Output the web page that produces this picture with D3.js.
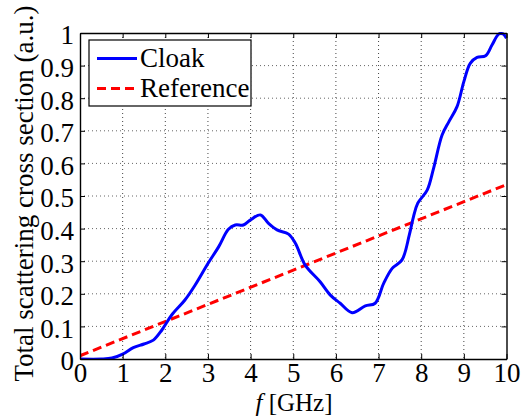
<!DOCTYPE html>
<html><head><meta charset="utf-8">
<script src="https://cdn.jsdelivr.net/npm/d3@7"></script>
<style>
html,body{margin:0;padding:0;background:#fff;}
</style></head>
<body><svg id="c" width="522" height="416"></svg>
<script>
const cloakF = [0, 0.5, 0.75, 1.0, 1.25, 1.5, 1.72, 1.92, 2.15, 2.46, 2.7, 3.0, 3.25, 3.48, 3.64, 3.83, 3.99, 4.23, 4.42, 4.62, 4.89, 5.05, 5.28, 5.63, 5.87, 6.1, 6.38, 6.69, 6.92, 7.12, 7.32, 7.55, 7.72, 7.82, 7.92, 8.14, 8.29, 8.49, 8.65, 8.84, 9.0, 9.15, 9.31, 9.51, 9.66, 9.82, 9.92, 10];
const cloakV = [0, 0, 0.003, 0.015, 0.035, 0.046, 0.058, 0.089, 0.135, 0.181, 0.227, 0.293, 0.344, 0.398, 0.411, 0.411, 0.426, 0.442, 0.416, 0.396, 0.383, 0.355, 0.288, 0.237, 0.196, 0.171, 0.142, 0.163, 0.171, 0.232, 0.278, 0.304, 0.38, 0.437, 0.478, 0.518, 0.585, 0.687, 0.728, 0.774, 0.851, 0.907, 0.925, 0.930, 0.963, 0.997, 0.997, 0.984];
const refF = [0, 10];
const refV = [0.01, 0.535];
const xTicks = [0,1,2,3,4,5,6,7,8,9,10];
const yTicks = [0,0.1,0.2,0.3,0.4,0.5,0.6,0.7,0.8,0.9,1];
const yTickLabels = ["0","0.1","0.2","0.3","0.4","0.5","0.6","0.7","0.8","0.9","1"];
const seriesNames = ["Cloak","Reference"];

const FONT = "Liberation Serif, Times New Roman, serif";
const FS = 27;
const svg = d3.select("#c").attr("font-family",FONT);
const L=80, R=506.5, T=33, B=359;
const x = d3.scaleLinear().domain([0,10]).range([L,R]);
const y = d3.scaleLinear().domain([0,1]).range([B,T]);

// grid
const g = svg.append("g");
g.selectAll("line.vg").data(xTicks.slice(1,-1)).enter().append("line")
 .attr("x1",d=>x(d)).attr("x2",d=>x(d)).attr("y1",T).attr("y2",B)
 .attr("stroke","#444").attr("stroke-width",1).attr("stroke-dasharray","1,3");
g.selectAll("line.hg").data(yTicks.slice(1,-1)).enter().append("line")
 .attr("x1",L).attr("x2",R).attr("y1",d=>y(d)).attr("y2",d=>y(d))
 .attr("stroke","#666").attr("stroke-width",1).attr("stroke-dasharray","1,3");

// clip
svg.append("clipPath").attr("id","clip").append("rect")
 .attr("x",L).attr("y",T-1).attr("width",R-L).attr("height",B-T+1);

const line = d3.line().curve(d3.curveCatmullRom.alpha(0.5)).x(d=>x(d[0])).y(d=>y(d[1]));
const plot = svg.append("g").attr("clip-path","url(#clip)");
plot.append("path").datum(refF.map((f,i)=>[f,refV[i]]))
 .attr("d",d3.line().x(d=>x(d[0])).y(d=>y(d[1])))
 .attr("fill","none").attr("stroke","#ff0000").attr("stroke-width",3).attr("stroke-dasharray","9,5");
plot.append("path").datum(cloakF.map((f,i)=>[f,cloakV[i]]))
 .attr("d",line).attr("fill","none").attr("stroke","#0000ff").attr("stroke-width",3)
 .attr("stroke-linejoin","round");

// axes (box + inward ticks)
const ax = svg.append("g");
ax.append("g").attr("class","xb").attr("transform",`translate(0,${B})`)
 .call(d3.axisBottom(x).tickValues(xTicks).tickSizeInner(-5).tickSizeOuter(0).tickPadding(4).tickFormat(d3.format("d")));
ax.append("g").attr("transform",`translate(0,${T})`)
 .call(d3.axisTop(x).tickValues(xTicks).tickSizeInner(-5).tickSizeOuter(0).tickFormat(""));
ax.append("g").attr("class","yl").attr("transform",`translate(${L},0)`)
 .call(d3.axisLeft(y).tickValues(yTicks).tickSizeInner(-5).tickSizeOuter(0).tickPadding(6).tickFormat((d,i)=>yTickLabels[i]));
ax.append("g").attr("transform",`translate(${R},0)`)
 .call(d3.axisRight(y).tickValues(yTicks).tickSizeInner(-5).tickSizeOuter(0).tickFormat(""));
ax.selectAll("g").attr("font-family",FONT).attr("font-size",FS);
ax.selectAll("path.domain").attr("stroke","#000").attr("stroke-width",1.4);
ax.selectAll(".tick line").attr("stroke","#000").attr("stroke-width",1);
ax.selectAll(".tick text").attr("fill","#000");
ax.select("g.yl").selectAll(".tick text").attr("dy","0.4em");

// axis labels
const xl = svg.append("text").attr("x",294).attr("y",410.5).attr("text-anchor","middle")
 .attr("font-size",25).attr("fill","#000");
xl.append("tspan").attr("font-style","italic").text("f");
xl.append("tspan").text(" [GHz]");
svg.append("text").attr("transform",`translate(33,193.5) rotate(-90)`).attr("text-anchor","middle")
 .attr("font-size",FS).attr("fill","#000").text("Total scattering cross section (a.u.)");

// legend
const lg = svg.append("g");
lg.append("rect").attr("x",89).attr("y",40).attr("width",162).attr("height",66)
 .attr("fill","#fff").attr("stroke","#000").attr("stroke-width",1.2);
const rows = [{n:seriesNames[0],c:"#0000ff",dash:null,y:58.5},{n:seriesNames[1],c:"#ff0000",dash:"9,5",y:88.5}];
rows.forEach(r=>{
  lg.append("line").attr("x1",97).attr("x2",137).attr("y1",r.y).attr("y2",r.y)
   .attr("stroke",r.c).attr("stroke-width",3).attr("stroke-dasharray",r.dash);
  lg.append("text").attr("x",140).attr("y",r.y+8.5).attr("font-size",FS).attr("fill","#000").text(r.n);
});
</script></body></html>
